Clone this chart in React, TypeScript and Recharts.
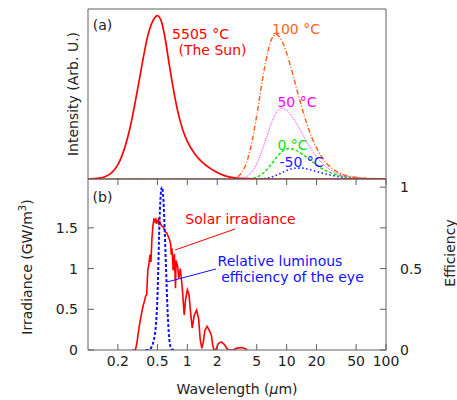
import React from 'react';
import { LineChart, Line, XAxis, YAxis, ReferenceArea, ReferenceDot, ReferenceLine } from 'recharts';

// (a) black-body curves, arbitrary units
const sunWl = [0.1, 0.13, 0.15, 0.17, 0.2, 0.22, 0.25, 0.28, 0.3, 0.33, 0.36, 0.4, 0.45, 0.5, 0.55, 0.6, 0.65, 0.7, 0.8, 0.9, 1, 1.2, 1.4, 1.7, 2, 2.5, 3, 4, 5, 100];
const sunIntensity = [0, 0.005, 0.015, 0.034, 0.088, 0.143, 0.251, 0.382, 0.476, 0.613, 0.741, 0.877, 0.968, 1, 0.96, 0.855, 0.72, 0.6, 0.415, 0.3, 0.23, 0.15, 0.105, 0.065, 0.04, 0.016, 0.007, 0.002, 0, 0];

const t100Wl = [0.1, 2.5, 3, 3.5, 4, 4.5, 5, 6, 7, 7.8, 9, 10, 11, 12, 14, 16, 18, 20, 25, 30, 35, 40, 50, 60, 70, 85, 100];
const t100Intensity = [0, 0, 0.006, 0.037, 0.111, 0.235, 0.39, 0.683, 0.852, 0.886, 0.843, 0.77, 0.685, 0.6, 0.451, 0.336, 0.251, 0.19, 0.099, 0.056, 0.034, 0.021, 0.01, 0.005, 0.003, 0.0014, 0.0008];

const t50Wl = [0.1, 3, 3.5, 4, 5, 6, 7, 8, 9, 10, 11, 12, 14, 16, 18, 20, 25, 30, 35, 40, 50, 60, 70, 85, 100];
const t50Intensity = [0, 0, 0.004, 0.017, 0.092, 0.22, 0.34, 0.413, 0.432, 0.42, 0.393, 0.359, 0.288, 0.224, 0.174, 0.135, 0.074, 0.043, 0.027, 0.017, 0.008, 0.004, 0.0024, 0.0012, 0.0006];

const t0Wl = [0.1, 4, 5, 6, 7, 8, 9, 10, 10.6, 12, 14, 16, 18, 20, 25, 30, 35, 40, 50, 60, 70, 85, 100];
const t0Intensity = [0, 0.0005, 0.0115, 0.043, 0.09, 0.136, 0.168, 0.184, 0.186, 0.18, 0.157, 0.131, 0.107, 0.086, 0.05, 0.031, 0.019, 0.013, 0.006, 0.0033, 0.0019, 0.0009, 0.0005];

const tm50Wl = [0.1, 5, 6, 7, 8, 9, 10, 11, 12, 13, 14, 16, 18, 20, 25, 30, 35, 40, 50, 60, 70, 85, 100];
const tm50Intensity = [0, 0.0002, 0.0035, 0.0117, 0.0245, 0.039, 0.052, 0.061, 0.066, 0.0668, 0.0666, 0.0615, 0.054, 0.046, 0.03, 0.0194, 0.0128, 0.0087, 0.0043, 0.0024, 0.0014, 0.0007, 0.0004];

// (b) solar irradiance (GW/m^3) and relative luminous efficiency
const solarWl = [0.28, 0.3, 0.31, 0.32, 0.33, 0.34, 0.35, 0.36, 0.37, 0.38, 0.39, 0.4, 0.41, 0.42, 0.43, 0.44, 0.45, 0.46, 0.47, 0.48, 0.49, 0.5, 0.51, 0.52, 0.53, 0.54, 0.56, 0.58, 0.6, 0.62, 0.64, 0.66, 0.68, 0.69, 0.7, 0.72, 0.74, 0.76, 0.77, 0.8, 0.82, 0.85, 0.88, 0.9, 0.93, 0.96, 1, 1.04, 1.08, 1.12, 1.17, 1.24, 1.3, 1.35, 1.4, 1.45, 1.5, 1.58, 1.65, 1.75, 1.8, 1.85, 1.95, 2.05, 2.2, 2.35, 2.5, 2.6, 2.9, 3.1, 3.5, 3.8, 4];
const solarIrr = [0, 0, 0.08, 0.2, 0.31, 0.4, 0.48, 0.55, 0.6, 0.66, 0.68, 0.98, 1.05, 1.17, 1.08, 1.37, 1.52, 1.6, 1.58, 1.62, 1.55, 1.58, 1.6, 1.55, 1.57, 1.54, 1.52, 1.5, 1.45, 1.44, 1.4, 1.36, 1.3, 1.17, 1.25, 0.98, 1.18, 0.76, 1.1, 1.02, 0.88, 1.0, 0.82, 0.68, 0.43, 0.62, 0.74, 0.68, 0.45, 0.27, 0.42, 0.49, 0.38, 0.12, 0.02, 0.1, 0.24, 0.29, 0.25, 0.18, 0.06, 0, 0.01, 0.08, 0.1, 0.07, 0.02, 0, 0, 0.02, 0.03, 0.02, 0];

const effWl = [0.38, 0.4, 0.42, 0.43, 0.44, 0.45, 0.46, 0.47, 0.48, 0.49, 0.5, 0.51, 0.52, 0.53, 0.54, 0.55, 0.555, 0.56, 0.57, 0.58, 0.59, 0.6, 0.61, 0.62, 0.63, 0.64, 0.65, 0.66, 0.67, 0.68, 0.69, 0.7, 0.72, 0.75];
const efficiency = [0, 0.0004, 0.004, 0.0116, 0.023, 0.038, 0.06, 0.091, 0.139, 0.208, 0.323, 0.503, 0.71, 0.862, 0.954, 0.995, 1, 0.995, 0.952, 0.87, 0.757, 0.631, 0.503, 0.381, 0.265, 0.175, 0.107, 0.061, 0.032, 0.017, 0.0082, 0.0041, 0.001, 0];

const wlTicks = [0.2, 0.5, 1, 2, 5, 10, 20, 50, 100];
const irrTicks = [0, 0.5, 1, 1.5];
const effTicks = [0, 0.25, 0.5, 0.75, 1];

const pts = (wl: number[], v: number[]) => wl.map((x, i) => ({ x, y: v[i] }));

const BOX = '#606060';
const TXT = '#222';

const note = (value: string, fill: string) => ({ value, position: 'center' as const, fill, fontSize: 14 });

export default function App() {
  return (
    <div style={{ position: 'absolute', left: 0, top: 0, width: 457, height: 400, fontFamily: 'DejaVu Sans', background: '#fff' }}>
      <div style={{ position: 'absolute', left: 0, top: 0 }}>
        <LineChart width={457} height={180} margin={{ top: 9, right: 71, bottom: 1, left: 88 }}>
          <XAxis dataKey="x" type="number" scale="log" domain={[0.1, 100]} allowDataOverflow hide />
          <YAxis type="number" domain={[0, 1.04]} allowDataOverflow hide />
          <ReferenceArea x1={0.1} x2={100} y1={0} y2={1.04} fill="none" stroke={BOX} strokeWidth={1} />
          <Line data={pts(tm50Wl, tm50Intensity)} dataKey="y" type="monotone" stroke="#2020ff" strokeWidth={1.6} strokeDasharray="1.5 2.5" dot={false} activeDot={false} isAnimationActive={false} />
          <Line data={pts(t0Wl, t0Intensity)} dataKey="y" type="monotone" stroke="#10e010" strokeWidth={1.5} strokeDasharray="3 2" dot={false} activeDot={false} isAnimationActive={false} />
          <Line data={pts(t50Wl, t50Intensity)} dataKey="y" type="monotone" stroke="#ff30ff" strokeWidth={1} strokeDasharray="1 1" dot={false} activeDot={false} isAnimationActive={false} />
          <Line data={pts(t100Wl, t100Intensity)} dataKey="y" type="monotone" stroke="#ff6420" strokeWidth={1.5} strokeDasharray="5 2 1 2" dot={false} activeDot={false} isAnimationActive={false} />
          <Line data={pts(sunWl, sunIntensity)} dataKey="y" type="monotone" stroke="#ff0000" strokeWidth={1.7} dot={false} activeDot={false} isAnimationActive={false} />
          <ReferenceDot x={0.14} y={0.942} r={0} fill="none" stroke="none" label={note('(a)', TXT)} />
          <ReferenceDot x={1.357} y={0.887} r={0} fill="none" stroke="none" label={note('5505 °C', '#ff0000')} />
          <ReferenceDot x={1.792} y={0.789} r={0} fill="none" stroke="none" label={note('(The Sun)', '#ff0000')} />
          <ReferenceDot x={12.42} y={0.918} r={0} fill="none" stroke="none" label={note('100 °C', '#ff6420')} />
          <ReferenceDot x={12.7} y={0.471} r={0} fill="none" stroke="none" label={note('50 °C', '#ff00ff')} />
          <ReferenceDot x={11.45} y={0.208} r={0} fill="none" stroke="none" label={note('0 °C', '#10e010')} />
          <ReferenceDot x={14.1} y={0.104} r={0} fill="none" stroke="none" label={note('-50 °C', '#2020ff')} />
        </LineChart>
      </div>
      <div style={{ position: 'absolute', left: 0, top: 170 }}>
        <LineChart width={457} height={230} margin={{ top: 8, right: 0, bottom: 0, left: 0 }}>
          <XAxis xAxisId="top" orientation="top" dataKey="x" type="number" scale="log" domain={[0.1, 100]} allowDataOverflow ticks={wlTicks} interval={0} height={1} tick={() => <g />} tickSize={-6} stroke={BOX} />
          <XAxis dataKey="x" type="number" scale="log" domain={[0.1, 100]} allowDataOverflow ticks={wlTicks} interval={0} height={50} tickSize={-6} tickMargin={12} stroke={BOX} tick={{ fill: TXT, fontSize: 14 }} />
          <YAxis yAxisId="left" type="number" domain={[0, 2.1]} allowDataOverflow ticks={irrTicks} interval={0} width={88} tickSize={-6} tickMargin={16} stroke={BOX} tick={{ fill: TXT, fontSize: 14 }} />
          <YAxis yAxisId="right" orientation="right" type="number" domain={[0, 1.05]} allowDataOverflow ticks={effTicks} interval={0} width={71} tickSize={-6} tickMargin={20} stroke={BOX} tick={{ fill: TXT, fontSize: 14 }} tickFormatter={(v: number) => (v === 0.25 || v === 0.75 ? '' : String(v))} />
          <Line data={pts(solarWl, solarIrr)} yAxisId="left" dataKey="y" type="linear" stroke="#ff0000" strokeWidth={1.6} dot={false} activeDot={false} isAnimationActive={false} />
          <Line data={pts(effWl, efficiency)} yAxisId="right" dataKey="y" type="monotone" stroke="#1010ff" strokeWidth={2} strokeDasharray="3 2" dot={false} activeDot={false} isAnimationActive={false} />
          <ReferenceLine yAxisId="left" segment={[{ x: 0.751, y: 1.228 }, { x: 3.02, y: 1.486 }]} stroke="#ff0000" strokeWidth={1} />
          <ReferenceLine yAxisId="left" segment={[{ x: 0.624, y: 0.835 }, { x: 1.944, y: 0.995 }]} stroke="#1010ff" strokeWidth={1} />
          <ReferenceDot yAxisId="left" x={0.14} y={1.879} r={0} fill="none" stroke="none" label={note('(b)', TXT)} />
          <ReferenceDot yAxisId="left" x={3.43} y={1.609} r={0} fill="none" stroke="none" label={note('Solar irradiance', '#ff0000')} />
          <ReferenceDot yAxisId="left" x={8.57} y={1.093} r={0} fill="none" stroke="none" label={note('Relative luminous', '#1010ff')} />
          <ReferenceDot yAxisId="left" x={11.45} y={0.896} r={0} fill="none" stroke="none" label={note('efficiency of the eye', '#1010ff')} />
        </LineChart>
      </div>
      <svg width={457} height={400} style={{ position: 'absolute', left: 0, top: 0, pointerEvents: 'none' }} fontFamily="DejaVu Sans" fontSize={14} fill={TXT}>
        <text transform="translate(73,94) rotate(-90)" textAnchor="middle" dominantBaseline="central">Intensity (Arb. U.)</text>
        <text transform="translate(27,267) rotate(-90)" textAnchor="middle" dominantBaseline="central">
          Irradiance (GW/m<tspan fontSize={10} dy={-5}>3</tspan><tspan dy={5}>)</tspan>
        </text>
        <text transform="translate(450,253) rotate(-90)" textAnchor="middle" dominantBaseline="central">Efficiency</text>
        <text x={237} y={389} textAnchor="middle" dominantBaseline="central">
          Wavelength (<tspan fontStyle="italic">µ</tspan>m)
        </text>
      </svg>
    </div>
  );
}
